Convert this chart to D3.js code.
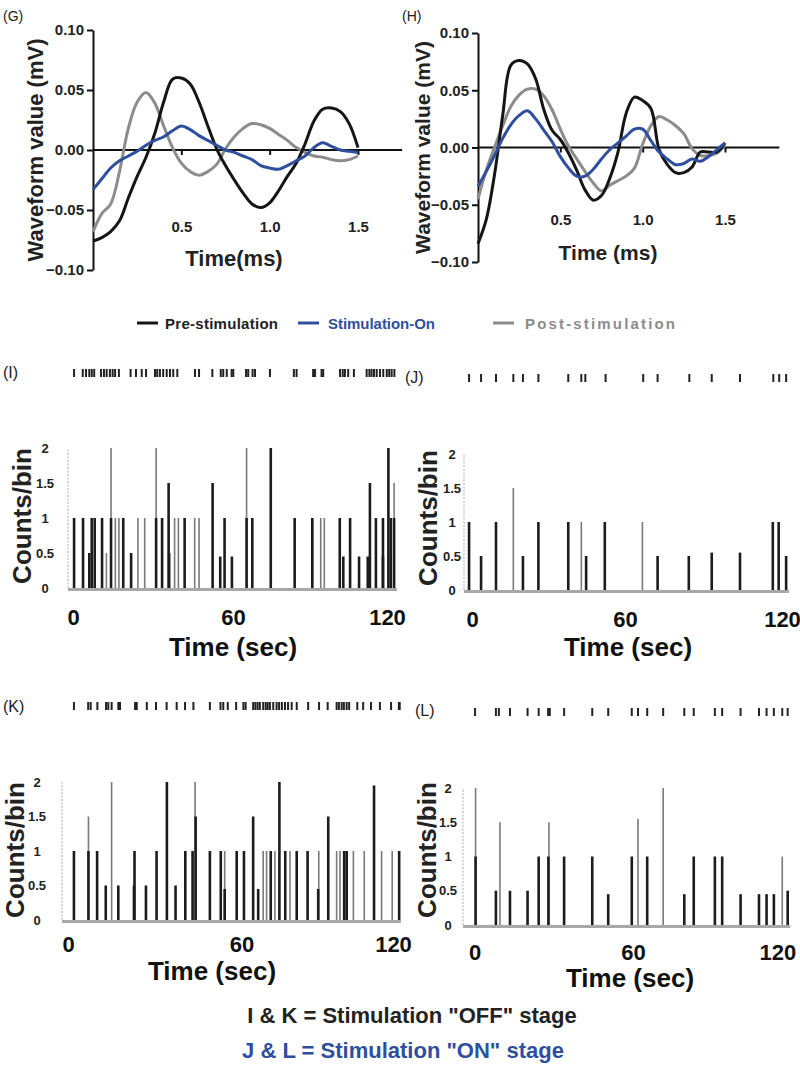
<!DOCTYPE html>
<html><head><meta charset="utf-8">
<script src="https://cdn.jsdelivr.net/npm/d3@7"></script>
<style>
body{margin:0;background:#fff;}
text{font-family:"Liberation Sans",Arial,sans-serif;}
</style></head>
<body><svg id="c" width="800" height="1072"></svg>
<script>
// ---------- DATA ----------
const waveT = [0,0.05,0.10,0.15,0.20,0.25,0.30,0.35,0.40,0.45,0.50,0.55,0.60,0.65,0.70,0.75,0.80,0.85,0.90,0.95,1.00,1.05,1.10,1.15,1.20,1.25,1.30,1.35,1.40,1.45,1.50];
const gPre  = [-0.076,-0.073,-0.068,-0.059,-0.040,-0.022,-0.006,0.014,0.040,0.059,0.060,0.055,0.040,0.020,0.001,-0.013,-0.025,-0.036,-0.045,-0.048,-0.044,-0.034,-0.022,-0.011,0.005,0.024,0.034,0.035,0.032,0.022,0.002];
const gOn   = [-0.033,-0.024,-0.015,-0.009,-0.005,-0.001,0.004,0.008,0.011,0.016,0.020,0.017,0.012,0.008,0.004,0.000,-0.002,-0.005,-0.008,-0.013,-0.015,-0.016,-0.013,-0.009,-0.005,0.002,0.006,0.003,0.000,-0.001,-0.002];
const gPost = [-0.068,-0.053,-0.045,-0.018,0.018,0.040,0.048,0.039,0.020,0.002,-0.011,-0.018,-0.021,-0.018,-0.012,0.001,0.011,0.018,0.022,0.021,0.018,0.013,0.008,0.002,-0.002,-0.005,-0.006,-0.008,-0.009,-0.008,-0.005];
const hPre  = [-0.084,-0.063,-0.024,0.028,0.072,0.076,0.073,0.060,0.033,0.015,0.007,-0.005,-0.020,-0.037,-0.046,-0.042,-0.027,-0.004,0.030,0.044,0.041,0.034,-0.002,-0.015,-0.022,-0.022,-0.017,-0.004,-0.004,-0.004,0.004];
const hOn   = [-0.034,-0.021,-0.007,0.008,0.020,0.028,0.032,0.025,0.015,0.005,-0.008,-0.018,-0.025,-0.025,-0.019,-0.010,-0.002,0.004,0.010,0.016,0.016,0.006,-0.004,-0.010,-0.015,-0.014,-0.010,-0.012,-0.008,-0.002,0.004];
const hPost = [-0.045,-0.020,0.000,0.019,0.036,0.046,0.051,0.051,0.045,0.033,0.016,0.001,-0.010,-0.021,-0.031,-0.038,-0.033,-0.029,-0.025,-0.018,0.003,0.019,0.027,0.024,0.019,0.012,-0.001,-0.007,-0.007,-0.005,0.002];
const waveYTicks = [-0.10,-0.05,0.00,0.05,0.10];
const waveXTicks = [0.5,1.0,1.5];
const legendLabels = ["Pre-stimulation","Stimulation-On","Post-stimulation"];

const countTicks = [0,0.5,1,1.5,2];
const timeTicks = [0,60,120];

// spike rasters (s)
const iSpikes = [1.5,4.7,5.9,7.1,8.0,8.9,11.4,12.5,13.5,14.7,15.7,16.6,18.0,22.3,24.3,26.4,28.0,31.3,32.1,33.1,34.3,35.6,36.8,38.0,39.5,46.0,47.5,52.4,55.5,56.4,57.7,59.5,60.1,64.8,65.6,67.2,68.1,73.6,82.4,83.4,89.5,90.2,92.6,93.2,99.4,100.4,101.2,102.4,104.5,109.2,110.2,111.0,111.9,112.9,114.1,115.3,116.6,117.5,118.4,119.4];
const jSpikes = [0.4,4.9,10.5,17.0,20.6,26.4,37.6,42.5,44.0,51.6,65.7,71.1,83.0,91.4,102.0,114.5,116.7,119.3];
const kSpikes = [3.2,8.3,9.2,11.6,14.7,15.5,16.7,19.1,19.7,25.1,25.7,29.3,32.6,36.4,40.0,43.0,46.0,51.9,55.7,56.7,58.3,61.3,63.9,64.7,67.4,68.2,69.0,69.8,71.0,71.9,72.6,73.4,74.6,75.8,76.7,77.7,78.8,79.9,81.2,83.0,87.1,91.0,94.1,97.3,98.1,99.1,99.9,100.9,101.8,104.7,106.8,109.6,112.8,116.8,119.6,119.9];
const lSpikes = [3.9,11.6,12.7,16.8,23.3,27.4,30.9,31.5,36.8,47.2,53.1,61.8,64.1,67.5,73.4,81.2,84.7,92.5,95.2,102.0,108.8,111.6,114.3,117.4,119.4];

// histogram bars: dark series and light series (time s, counts/bin)
const iDarkT = [1.5,4.8,7.1,8.0,9.1,11.8,15.1,19.6,22.5,31.7,33.9,36.3,36.5,42.2,52.5,55.3,56.9,59.6,65.0,67.1,73.9,82.7,89.2,99.3,100.6,103.1,106.4,109.6,110.4,112.6,115.2,115.2,117.2,118.1,119.3];
const iDarkC = [1,1,0.5,1,1,1,1,1,0.5,1,1,1.5,0.5,1,1.5,0.45,1,0.45,1,1,2,1,1,1,0.45,1,0.45,0.45,1.5,1,1,0.45,2,1,1];
const iLightT = [13.4,15.1,16.7,18.0,25.0,27.5,31.7,38.5,39.9,45.9,47.5,65.0,92.3,93.6,119.3];
const iLightC = [0.5,2,1,1,1,1,2,1,1,1,1,2,1,1,1.5];

const jDarkT = [0.4,4.9,10.5,20.6,26.4,37.6,44.3,51.3,71.1,82.8,91.4,102.0,114.3,116.5,119.3];
const jDarkC = [1,0.5,1,0.5,1,1,0.5,1,0.5,0.5,0.55,0.55,1,1,0.5];
const jLightT = [17.0,42.5,65.4];
const jLightC = [1.5,1,1];

const kDarkT = [3.2,8.4,11.5,14.6,19.1,24.7,24.9,29.0,32.8,36.5,39.6,43.1,45.7,46.8,51.9,55.8,57.2,61.5,64.1,67.4,69.2,73.7,76.8,78.9,83.0,86.9,90.7,94.3,100.0,100.9,110.7,119.7];
const kDarkC = [1,1,1,0.5,0.5,0.5,1,0.5,1,2,0.5,1,1,1.5,1,1,0.45,1,1,1.5,0.45,1,2,1,1,1,0.45,1.5,1,1,1.95,1];
const kLightT = [8.4,16.7,46.6,57.2,71.0,72.2,75.2,80.6,90.9,97.3,98.5,103.3,107.2,113.4,117.2];
const kLightC = [1.5,2,2,1,1,1,1,1,1,1,1,1,1,1,1];

const lDarkT = [4.1,11.6,16.8,23.3,27.4,31.0,36.8,47.2,53.1,61.8,67.5,81.2,84.7,92.5,95.2,102.0,108.8,111.6,114.3,119.4];
const lDarkC = [1,0.5,0.5,0.5,1,1,1,1,0.45,1,1,0.45,1,1,1,0.45,0.45,0.45,0.45,0.5];
const lLightT = [4.1,13.1,31.2,64.1,73.4,117.4];
const lLightC = [2,1.5,1.5,1.55,2,1];

const noteLines = ['I & K = Stimulation "OFF" stage','J & L = Stimulation "ON" stage'];

// ---------- DRAW ----------
const svg = d3.select("#c");
svg.append("rect").attr("width",800).attr("height",1072).attr("fill","#fff");
const FONT = '"Liberation Sans",Arial,sans-serif';
const C_PRE="#151515", C_ON="#2f4f9e", C_POST="#8c8c8c";

function wavePanel(o){
  const g = svg.append("g");
  const x = d3.scaleLinear().domain([0,1.5]).range([o.x0,o.x15]);
  const y = d3.scaleLinear().domain([-0.1,0.1]).range([o.yb,o.yt]);
  const ya = g.append("g").attr("transform",`translate(${o.x0},0)`)
    .call(d3.axisLeft(y).tickValues(waveYTicks).tickFormat(d3.format(".2f")).tickSize(6).tickSizeOuter(0).tickPadding(3));
  ya.select(".domain").attr("stroke","#111").attr("stroke-width",2);
  ya.selectAll(".tick line").attr("stroke","#111").attr("stroke-width",2);
  ya.selectAll("text").attr("font-family",FONT).attr("font-weight","bold").attr("font-size",15).attr("fill","#222");
  const xa = g.append("g").attr("transform",`translate(0,${y(0)})`)
    .call(d3.axisBottom(x).tickValues(waveXTicks).tickFormat(d3.format(".1f")).tickSize(5).tickSizeOuter(0).tickPadding(o.pad));
  xa.select(".domain").remove();
  xa.selectAll(".tick line").attr("stroke","#111").attr("stroke-width",2);
  xa.selectAll("text").attr("font-family",FONT).attr("font-weight","bold").attr("font-size",15).attr("fill","#222");
  g.append("line").attr("x1",x(0)).attr("x2",x(o.tEnd)).attr("y1",y(0)).attr("y2",y(0)).attr("stroke","#111").attr("stroke-width",2);
  const line = d3.line().x((d,i)=>x(waveT[i])).y(d=>y(d)).curve(d3.curveCatmullRom.alpha(0.5));
  [[o.post,C_POST],[o.pre,C_PRE],[o.on,C_ON]].forEach(([s,c])=>{
    g.append("path").attr("d",line(s)).attr("fill","none").attr("stroke",c).attr("stroke-width",3).attr("stroke-linejoin","round");
  });
  g.append("text").attr("x",o.lx).attr("y",(o.yt+o.yb)/2).attr("transform",`rotate(-90,${o.lx},${(o.yt+o.yb)/2})`)
    .attr("text-anchor","middle").attr("dominant-baseline","central").attr("font-weight","bold").attr("font-size",o.lfs).attr("fill","#222").text("Waveform value (mV)");
  g.append("text").attr("x",o.tx).attr("y",o.ty).attr("text-anchor","middle").attr("font-weight","bold").attr("font-size",o.tfs).attr("fill","#222").text(o.title);
  g.append("text").attr("x",o.px).attr("y",o.py).attr("font-size",14).attr("fill","#222").text(o.panel);
}

wavePanel({x0:93,x15:358,yt:30,yb:270,pad:66,tEnd:1.75,pre:gPre,on:gOn,post:gPost,lx:35,lfs:22,tx:234,ty:266,tfs:22,title:"Time(ms)",panel:"(G)",px:3,py:21});
wavePanel({x0:478,x15:725,yt:33,yb:262,pad:62,tEnd:1.83,pre:hPre,on:hOn,post:hPost,lx:422,lfs:21,tx:608,ty:260,tfs:21,title:"Time (ms)",panel:"(H)",px:402,py:21});

// legend
const leg = svg.append("g");
const legItems = [{x:137,c:C_PRE,tx:165,w:113},{x:298,c:C_ON,tx:328,w:107},{x:493,c:C_POST,tx:525,w:150}];
legItems.forEach((it,i)=>{
  leg.append("line").attr("x1",it.x).attr("x2",it.x+21).attr("y1",323).attr("y2",323).attr("stroke",it.c).attr("stroke-width",3);
  leg.append("text").attr("x",it.tx).attr("y",328.5).attr("font-weight","bold").attr("font-size",15)
    .attr("textLength",it.w).attr("lengthAdjust","spacing")
    .attr("fill",it.c==C_PRE?"#222":it.c).text(legendLabels[i]);
});

function histPanel(o){
  const g = svg.append("g");
  const x = d3.scaleLinear().domain([0,120]).range([o.x0,o.x120]);
  const y = d3.scaleLinear().domain([0,2]).range([o.y0,o.y2]);
  g.selectAll(".sp").data(o.spikes).enter().append("line")
    .attr("x1",d=>x(d)).attr("x2",d=>x(d)).attr("y1",o.ry).attr("y2",o.ry+8)
    .attr("stroke","#222").attr("stroke-width",2);
  g.append("text").attr("x",o.px).attr("y",o.py).attr("font-size",16).attr("fill","#222").text(o.panel);
  g.append("line").attr("x1",o.ax).attr("x2",o.ax).attr("y1",y(0)).attr("y2",y(2)).attr("stroke","#bbb").attr("stroke-width",1.2).attr("stroke-dasharray","2,1.5");
  const ya = g.append("g").attr("transform",`translate(${o.ax},0)`)
    .call(d3.axisLeft(y).tickValues(countTicks).tickFormat(d=>String(d)).tickSize(0).tickPadding(0));
  ya.select(".domain").remove();
  ya.selectAll("text").attr("x",-o.lo).attr("text-anchor","middle").attr("font-family",FONT).attr("font-weight","bold").attr("font-size",13).attr("fill","#222");
  const bar = (T,C,col,w)=>{
    g.selectAll(null).data(T.map((t,i)=>[t,C[i]])).enter().append("line")
      .attr("x1",d=>x(d[0])).attr("x2",d=>x(d[0])).attr("y1",y(0)).attr("y2",d=>y(d[1]))
      .attr("stroke",col).attr("stroke-width",w);
  };
  bar(o.lt,o.lc,"#7a7a7a",1.6);
  bar(o.dt,o.dc,"#1c1c1c",2.6);
  g.append("line").attr("x1",o.ax).attr("x2",x(120)+1).attr("y1",y(0)+1.5).attr("y2",y(0)+1.5).attr("stroke","#a8a8a8").attr("stroke-width",3);
  const xa = g.append("g").attr("transform",`translate(0,${y(0)+1.5})`)
    .call(d3.axisBottom(x).tickValues(timeTicks).tickSize(0).tickPadding(o.tp));
  xa.select(".domain").remove();
  xa.selectAll("text").attr("font-family",FONT).attr("font-weight","bold").attr("font-size",22).attr("fill","#111")
    .attr("dx",(d,i)=>o.ldx[i]);
  g.append("text").attr("x",o.cx).attr("y",o.cy).attr("transform",`rotate(-90,${o.cx},${o.cy})`)
    .attr("text-anchor","middle").attr("dominant-baseline","central").attr("font-weight","bold").attr("font-size",26).attr("fill","#222").text("Counts/bin");
  g.append("text").attr("x",o.tx).attr("y",o.ty).attr("text-anchor","middle").attr("font-weight","bold").attr("font-size",26).attr("fill","#111").text("Time (sec)");
}

histPanel({x0:70,x120:396,y0:588,y2:448,ax:68,lo:23,spikes:iSpikes,ry:369,panel:"(I)",px:3,py:378,dt:iDarkT,dc:iDarkC,lt:iLightT,lc:iLightC,tp:20,ldx:[3,0,-9],cx:22,cy:516,tx:233,ty:656});
histPanel({x0:468,x120:788,y0:590,y2:454,ax:464,lo:12,spikes:jSpikes,ry:374,panel:"(J)",px:405,py:383,dt:jDarkT,dc:jDarkC,lt:jLightT,lc:jLightC,tp:20,ldx:[4,-3,-6],cx:428,cy:518,tx:628,ty:656});
histPanel({x0:65,x120:400,y0:920,y2:782,ax:62,lo:25,spikes:kSpikes,ry:702,panel:"(K)",px:3,py:712,dt:kDarkT,dc:kDarkC,lt:kLightT,lc:kLightC,tp:15,ldx:[3,9,-7],cx:15,cy:850,tx:212,ty:980});
histPanel({x0:464.5,x120:789.3,y0:925,y2:788,ax:463,lo:15,spikes:lSpikes,ry:708,panel:"(L)",px:415,py:716,dt:lDarkT,dc:lDarkC,lt:lLightT,lc:lLightC,tp:18,ldx:[10,6,-12],cx:427,cy:850,tx:630,ty:987});

svg.append("text").attr("x",412).attr("y",1023).attr("text-anchor","middle").attr("font-weight","bold").attr("font-size",22).attr("fill","#222").text(noteLines[0]);
svg.append("text").attr("x",403).attr("y",1058).attr("text-anchor","middle").attr("font-weight","bold").attr("font-size",22).attr("fill","#2f4f9e").text(noteLines[1]);
</script></body></html>
